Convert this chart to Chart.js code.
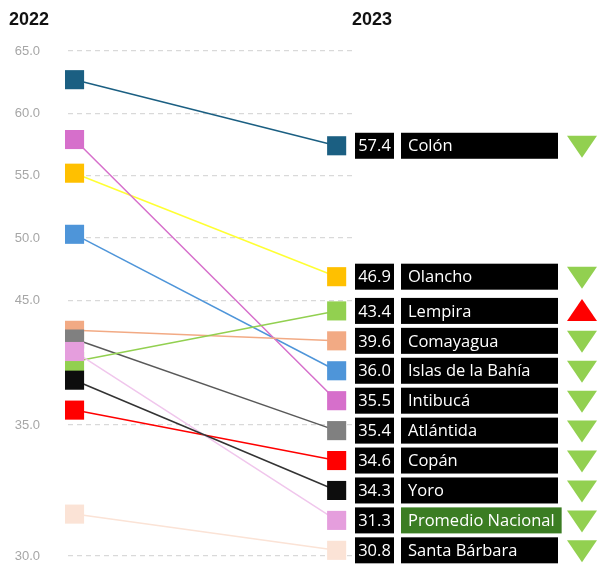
<!DOCTYPE html>
<html>
<head>
<meta charset="utf-8">
<script src="https://cdn.jsdelivr.net/npm/chart.js@4.4.1/dist/chart.umd.min.js"></script>
<style>
  html, body { margin: 0; padding: 0; background: #fff; }
</style>
</head>
<body>
<canvas id="slopeChart" width="598" height="569"></canvas>
<script>
// =====================
// DATA
// =====================
const years = ["2022", "2023"];
const regions = ["Colón", "Olancho", "Lempira", "Comayagua", "Islas de la Bahía", "Intibucá",
  "Atlántida", "Copán", "Yoro", "Promedio Nacional", "Santa Bárbara"];
const values2022 = [62.7, 55.2, 40.1, 42.6, 50.3, 57.9, 41.9, 36.2, 38.6, 40.9, 31.6];
const values2023 = [57.4, 46.9, 43.4, 39.6, 36.0, 35.5, 35.4, 34.6, 34.3, 31.3, 30.8];
const yTicks = [65, 60, 55, 50, 45, 35, 30];

const markerColors = ["#1b5f82", "#ffc000", "#92d050", "#f2aa84", "#4e95d9", "#d66fcb",
  "#808080", "#ff0000", "#0d0d0d", "#e59edd", "#fbe3d6"];
const lineColors = ["#1b5f82", "#ffff33", "#92d050", "#f2aa84", "#4e95d9", "#d66fcb",
  "#595959", "#ff0000", "#333333", "#f0c6ec", "#fbe3d6"];
// drawing order: first = on top
const drawOrder = [8, 9, 2, 6, 3, 7, 0, 5, 1, 4, 10];

// =====================
// AXIS (values under 35 are stretched, as in the original)
// =====================
const BREAK = 35;
const STRETCH = 2.1;
function toAxis(v) { return v >= BREAK ? v : BREAK - (BREAK - v) * STRETCH; }
function fromAxis(t) { return t >= BREAK ? t : BREAK - (BREAK - t) / STRETCH; }

// spread the 2023 labels so they don't overlap (values sorted high -> low)
function spreadLabels(vals, gap) {
  const b = vals.map((v, i) => -v - i * gap);
  const blocks = [];
  b.forEach(x => {
    blocks.push({ sum: x, n: 1 });
    while (blocks.length > 1) {
      const last = blocks[blocks.length - 1];
      const prev = blocks[blocks.length - 2];
      if (prev.sum / prev.n <= last.sum / last.n) break;
      blocks.pop();
      prev.sum += last.sum;
      prev.n += last.n;
    }
  });
  const out = [];
  blocks.forEach(bl => { for (let k = 0; k < bl.n; k++) out.push(bl.sum / bl.n); });
  return out.map((x, i) => -(x + i * gap));
}

const placed2023 = spreadLabels(values2023.map(toAxis), 2.4);

// =====================
// LABELS PLUGIN
// =====================
const labelPlugin = {
  id: "slopeLabels",
  afterDraw(chart) {
    const ctx = chart.ctx;
    const yScale = chart.scales.y;
    ctx.save();

    // year headers
    ctx.fillStyle = "#111";
    ctx.font = "bold 18px 'Liberation Sans', Arial, sans-serif";
    ctx.textBaseline = "middle";
    ctx.textAlign = "left";
    ctx.fillText(years[0], 9, 20);
    ctx.fillText(years[1], 352, 20);

    regions.forEach((name, i) => {
      const y = yScale.getPixelForValue(placed2023[i]);

      // value box
      ctx.fillStyle = "#000";
      ctx.fillRect(355, y - 13, 39, 26);
      ctx.fillStyle = "#fff";
      ctx.font = "16.5px 'Open Sans', sans-serif";
      ctx.textAlign = "center";
      ctx.fillText(values2023[i].toFixed(1), 374.5, y + 1);

      // name box
      const w = Math.max(157, ctx.measureText(name).width + 14);
      ctx.fillStyle = name === "Promedio Nacional" ? "#3b7d23" : "#000";
      ctx.fillRect(401, y - 13, w, 26);
      ctx.fillStyle = "#fff";
      ctx.textAlign = "left";
      ctx.fillText(name, 408, y + 1);

      // trend arrow
      const up = values2023[i] > values2022[i];
      ctx.fillStyle = up ? "#ff0000" : "#92d050";
      ctx.beginPath();
      if (up) {
        ctx.moveTo(582, y - 12);
        ctx.lineTo(597, y + 10);
        ctx.lineTo(567, y + 10);
      } else {
        ctx.moveTo(567, y - 10);
        ctx.lineTo(597, y - 10);
        ctx.lineTo(582, y + 12);
      }
      ctx.closePath();
      ctx.fill();
    });
    ctx.restore();
  }
};

// =====================
// CHART
// =====================
const datasets = drawOrder.map((i, k) => ({
  label: regions[i],
  data: [
    { x: 0, y: toAxis(values2022[i]) },
    { x: 1, y: placed2023[i] }
  ],
  borderColor: lineColors[i],
  backgroundColor: markerColors[i],
  borderWidth: 1.5,
  pointStyle: "rect",
  pointRadius: 13.5,
  pointHoverRadius: 13.5,
  pointBorderWidth: 0,
  pointBackgroundColor: markerColors[i],
  tension: 0,
  clip: false,
  order: k
}));

new Chart(document.getElementById("slopeChart"), {
  type: "line",
  data: { datasets: datasets },
  options: {
    responsive: false,
    animation: false,
    layout: { autoPadding: false, padding: { left: 14, right: 243, top: 51, bottom: 13 } },
    plugins: {
      legend: { display: false },
      tooltip: { enabled: false }
    },
    scales: {
      x: {
        type: "linear",
        min: -0.025,
        max: 1.07,
        display: false
      },
      y: {
        type: "linear",
        min: toAxis(30),
        max: 65,
        afterBuildTicks: scale => {
          scale.ticks = yTicks.map(v => ({ value: toAxis(v) }));
        },
        afterFit: scale => {
          scale.width = 54;
          scale.paddingTop = 0;
          scale.paddingBottom = 0;
        },
        border: { display: false, dash: [5, 4] },
        grid: {
          color: "#d9d9d9",
          lineWidth: 1.2,
          drawTicks: false
        },
        ticks: {
          color: "#a6a6a6",
          padding: 28,
          font: { family: "'Liberation Sans', Arial, sans-serif", size: 13 },
          callback: v => fromAxis(v).toFixed(1)
        }
      }
    }
  },
  plugins: [labelPlugin]
});
</script>
</body>
</html>
